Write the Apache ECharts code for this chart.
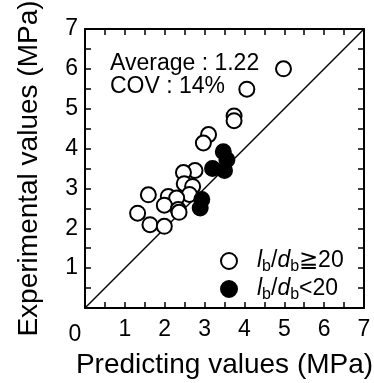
<!DOCTYPE html>
<html>
<head>
<meta charset="utf-8">
<script src="https://cdn.jsdelivr.net/npm/echarts@6/dist/echarts.min.js"></script>
<style>
html, body { margin: 0; padding: 0; background: #fff; }
#root { width: 374px; height: 383px; }
</style>
</head>
<body>
<div id="root"></div>
<script>
// lb/db >= 20 (open circles): [predicting, experimental]
var openX = [4.98, 4.06, 3.74, 3.74, 3.10, 2.97, 2.76, 2.47, 2.49, 2.70, 2.62, 1.59, 2.09, 2.30, 1.99, 2.34, 2.36, 1.32, 1.63, 1.99];
var openY = [6.00, 5.49, 4.82, 4.70, 4.35, 4.14, 3.45, 3.40, 3.12, 3.05, 2.85, 2.84, 2.80, 2.76, 2.58, 2.47, 2.40, 2.38, 2.09, 2.05];
// lb/db < 20 (filled circles)
var fillX = [3.47, 3.56, 3.20, 3.50, 2.93, 2.89];
var fillY = [3.92, 3.72, 3.50, 3.45, 2.72, 2.51];
var diagX = [0, 7];
var diagY = [0, 7];
var axisTicks = [0, 1, 2, 3, 4, 5, 6, 7];
var statsText = ['Average : 1.22', 'COV : 14%'];
var seriesNames = ['ge', 'lt'];

var font = 'Liberation Sans, Arial, sans-serif';
var zip = function (xs, ys) {
    return xs.map(function (x, i) { return [x, ys[i]]; });
};
var isTick = function (v) {
    return axisTicks.indexOf(v) >= 0;
};
// each axis gets its own line/tick objects
var frameLine = function () {
    return { show: true, onZero: false, lineStyle: { color: '#000', width: 2 } };
};
var frameTick = function () {
    return { show: true, inside: true, length: 6, lineStyle: { color: '#000', width: 1.5 } };
};

var chart = echarts.init(document.getElementById('root'));
var legendRich = {
    p: { fontSize: 23, fontFamily: font, color: '#000', lineHeight: 20, padding: [0, 0, 0, 15] },
    i: { fontSize: 23, fontFamily: font, color: '#000', lineHeight: 20, fontStyle: 'italic' },
    s: { fontSize: 16, fontFamily: font, color: '#000', lineHeight: 8, padding: [12, 0, 0, 0] },
    n: { fontSize: 23, fontFamily: font, color: '#000', lineHeight: 20 }
};
var option = {
    animation: false,
    title: {
        text: statsText.join('\n'),
        left: 105,
        top: 47,
        textStyle: { fontSize: 23, fontWeight: 'normal', fontFamily: font, color: '#000', lineHeight: 23 }
    },
    legend: {
        orient: 'vertical',
        left: 220,
        top: 247,
        padding: 0,
        itemWidth: 16,
        itemHeight: 16,
        itemGap: 0,
        data: seriesNames,
        formatter: function (name) {
            var tail = name === 'ge' ? '≧20' : '<20';
            return '{p|}{i|l}{s|b}{n|/}{i|d}{s|b}{n|' + tail + '}';
        },
        textStyle: { rich: legendRich }
    },
    grid: { left: 85, top: 29, right: 10, bottom: 75, outerBoundsMode: 'none' },
    xAxis: [
        {
            type: 'value', min: 0, max: 7, interval: 0.5, position: 'bottom',
            axisLine: frameLine(),
            axisTick: frameTick(),
            splitLine: { show: false },
            name: 'Predicting values (MPa)',
            nameLocation: 'middle',
            nameGap: 37,
            nameTextStyle: { fontSize: 28, fontFamily: font, color: '#000' },
            axisLabel: {
                margin: 10,
                fontSize: 23,
                fontFamily: font,
                color: '#000',
                formatter: function (v) {
                    if (v === 0) return '{z|0}';
                    return isTick(v) ? String(v) : '';
                },
                rich: { z: { fontSize: 23, fontFamily: font, color: '#000', padding: [5, 20, 0, 0] } }
            }
        },
        {
            type: 'value', min: 0, max: 7, interval: 0.5, position: 'top',
            axisLine: frameLine(),
            axisTick: frameTick(),
            splitLine: { show: false },
            axisLabel: { show: false }
        }
    ],
    yAxis: [
        {
            type: 'value', min: 0, max: 7, interval: 0.5, position: 'left',
            axisLine: frameLine(),
            axisTick: frameTick(),
            splitLine: { show: false },
            name: 'Experimental values (MPa)',
            nameLocation: 'middle',
            nameGap: 42,
            nameTextStyle: { fontSize: 28, fontFamily: font, color: '#000' },
            axisLabel: {
                margin: 7,
                fontSize: 23,
                fontFamily: font,
                color: '#000',
                formatter: function (v) {
                    return v !== 0 && isTick(v) ? String(v) : '';
                }
            }
        },
        {
            type: 'value', min: 0, max: 7, interval: 0.5, position: 'right',
            axisLine: frameLine(),
            axisTick: frameTick(),
            splitLine: { show: false },
            axisLabel: { show: false }
        }
    ],
    series: [
        {
            type: 'line',
            data: zip(diagX, diagY),
            showSymbol: false,
            symbol: 'none',
            lineStyle: { color: '#000', width: 1.5 },
            silent: true,
            z: 1
        },
        {
            name: seriesNames[0],
            type: 'scatter',
            symbol: 'circle',
            symbolSize: 15,
            data: zip(openX, openY),
            itemStyle: { color: '#fff', borderColor: '#000', borderWidth: 2, opacity: 1 },
            z: 2
        },
        {
            name: seriesNames[1],
            type: 'scatter',
            symbol: 'circle',
            symbolSize: 15,
            data: zip(fillX, fillY),
            itemStyle: { color: '#000', borderColor: '#000', borderWidth: 2, opacity: 1 },
            z: 3
        }
    ]
};
chart.setOption(option);
</script>
</body>
</html>
